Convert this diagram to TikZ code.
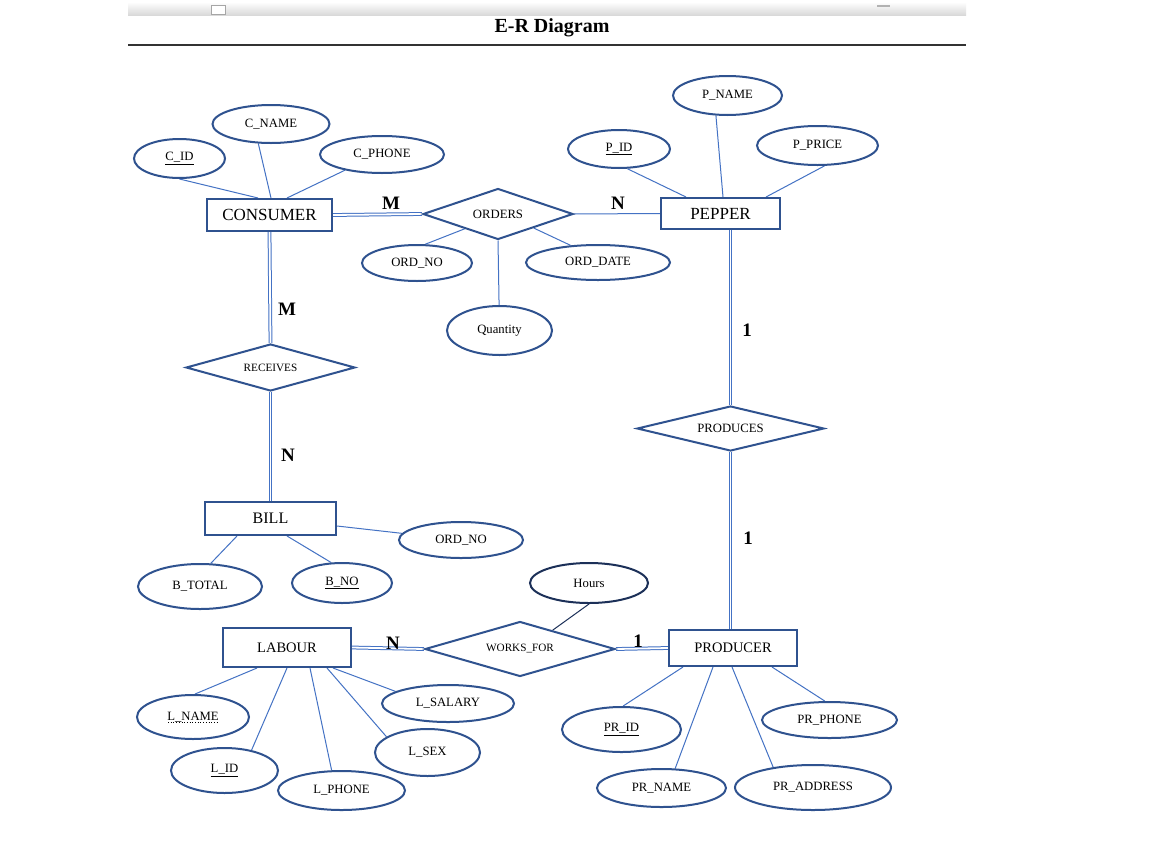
\documentclass[tikz,border=0pt]{standalone}
\usepackage{fontspec}
\setmainfont{Liberation Serif}
\usetikzlibrary{shapes.geometric,calc,backgrounds}
\definecolor{shapecol}{RGB}{47,82,143}
\definecolor{conncol}{RGB}{68,114,196}
\definecolor{darknavy}{RGB}{28,48,88}
\begin{document}
\begin{tikzpicture}[x=1pt,y=-1pt,
 ent/.style={draw=shapecol, line width=2pt, rectangle, inner sep=0pt, fill=white},
 rel/.style={draw=shapecol, line width=2pt, diamond, aspect=4, inner sep=0pt, fill=white},
 attr/.style={draw=shapecol, line width=2pt, ellipse, inner sep=0pt, fill=white, font=\fontsize{12.7}{14}\selectfont},
 conn/.style={draw=conncol, line width=1pt},
 dbl/.style={draw=conncol, line width=1pt, double=white, double distance=1.8pt},
 card/.style={font=\fontsize{19}{21}\selectfont\bfseries, inner sep=0pt},
 bigtxt/.style={font=\fontsize{17}{19}\selectfont},
 billtxt/.style={font=\fontsize{16}{18}\selectfont},
 midtxt/.style={font=\fontsize{14.5}{16}\selectfont},
 reltxt/.style={font=\fontsize{12.7}{14}\selectfont},
 smalltxt/.style={font=\fontsize{11.2}{13}\selectfont},
]
\useasboundingbox (0,0) rectangle (1155,862);

% window bar and title
\shade[top color=white, bottom color=gray!30] (128,2) rectangle (966,15);
\draw[gray!70, fill=white, line width=0.8pt] (211,5) rectangle (225,14);
\draw[gray!60, line width=1.5pt] (877,6) -- (890,6);
\node[font=\fontsize{20}{22}\selectfont\bfseries] (title) at (552,28) {E-R Diagram};
\draw[black!80, line width=1.5pt] (128,45) -- (966,45);

% entities
\node[ent, bigtxt, minimum width=125pt, minimum height=32pt] (consumer) at (269.5,215) {CONSUMER};
\node[ent, bigtxt, minimum width=119pt, minimum height=31pt] (pepper) at (720.5,213.5) {PEPPER};
\node[ent, billtxt, minimum width=131pt, minimum height=33pt] (bill) at (270.5,518.5) {BILL};
\node[ent, midtxt, minimum width=128pt, minimum height=39pt] (labour) at (287,647.5) {LABOUR};
\node[ent, midtxt, minimum width=128pt, minimum height=36pt] (producer) at (733,648) {PRODUCER};

% relationships
\node[rel, reltxt, minimum width=150pt, minimum height=51pt] (orders) at (498,214) {ORDERS};
\node[rel, smalltxt, minimum width=169pt, minimum height=47pt] (receives) at (270.5,367.5) {RECEIVES};
\node[rel, reltxt, minimum width=187pt, minimum height=45pt] (produces) at (730.5,428.5) {PRODUCES};
\node[rel, smalltxt, minimum width=190pt, minimum height=55pt] (wf) at (520,649) {WORKS\_FOR};

% attributes
\node[attr, minimum width=91pt, minimum height=39pt] (cid) at (179.5,158.5) {\underline{C\_ID}};
\node[attr, minimum width=117pt, minimum height=38pt] (cname) at (271,124) {C\_NAME};
\node[attr, minimum width=124pt, minimum height=37pt] (cphone) at (382,154.5) {C\_PHONE};
\node[attr, minimum width=109pt, minimum height=39pt] (pname) at (727.5,95.5) {P\_NAME};
\node[attr, minimum width=102pt, minimum height=38pt] (pid) at (619,149) {\underline{P\_ID}};
\node[attr, minimum width=121pt, minimum height=39pt] (pprice) at (817.5,145.5) {P\_PRICE};
\node[attr, minimum width=110pt, minimum height=36pt] (ordno1) at (417,263) {ORD\_NO};
\node[attr, minimum width=144pt, minimum height=35pt] (orddate) at (598,262.5) {ORD\_DATE};
\node[attr, minimum width=105pt, minimum height=49pt] (qty) at (499.5,330.5) {Quantity};
\node[attr, minimum width=124pt, minimum height=36pt] (ordno2) at (461,540) {ORD\_NO};
\node[attr, minimum width=124pt, minimum height=45pt] (btotal) at (200,586.5) {B\_TOTAL};
\node[attr, minimum width=100pt, minimum height=40pt] (bno) at (342,583) {\underline{B\_NO}};
\node[attr, draw=darknavy, minimum width=118pt, minimum height=40pt] (hours) at (589,583) {Hours};
\node[attr, minimum width=112pt, minimum height=44pt] (lname) at (193,717) {L\_NAME};
\draw[black, dotted, line width=0.7pt] ([xshift=-25pt,yshift=-5.5pt]lname.center) -- ([xshift=25pt,yshift=-5.5pt]lname.center);
\node[attr, minimum width=107pt, minimum height=45pt] (lid) at (224.5,770.5) {\underline{L\_ID}};
\node[attr, minimum width=127pt, minimum height=39pt] (lphone) at (341.5,790.5) {L\_PHONE};
\node[attr, minimum width=132pt, minimum height=37pt] (lsalary) at (448,703.5) {L\_SALARY};
\node[attr, minimum width=105pt, minimum height=47pt] (lsex) at (427.5,752.5) {L\_SEX};
\node[attr, minimum width=119pt, minimum height=45pt] (prid) at (621.5,729.5) {\underline{PR\_ID}};
\node[attr, minimum width=135pt, minimum height=36pt] (prphone) at (829.5,720) {PR\_PHONE};
\node[attr, minimum width=129pt, minimum height=38pt] (prname) at (661.5,788) {PR\_NAME};
\node[attr, minimum width=156pt, minimum height=45pt] (praddr) at (813,787.5) {PR\_ADDRESS};

% cardinalities
\node[card] (m1) at (391,203) {M};
\node[card] (n1) at (618,203) {N};
\node[card] (m2) at (287,309) {M};
\node[card] (n2) at (288,455) {N};
\node[card] (o1) at (747,330) {1};
\node[card] (o2) at (748,538) {1};
\node[card] (n3) at (393,643) {N};
\node[card] (o3) at (638,641) {1};

\begin{pgfonlayer}{background}
\fill[white] (0,0) rectangle (1155,862);
% attribute connectors
\draw[conn] (cid.south) -- ([xshift=-11.5pt]consumer.north);
\draw[conn] (cname.237) -- ([xshift=1.5pt]consumer.north);
\draw[conn] (cphone.203) -- ([xshift=17.5pt]consumer.north);
\draw[conn] (pid.293) -- ([xshift=-34.5pt]pepper.north);
\draw[conn] (pname.240) -- ([xshift=2.5pt]pepper.north);
\draw[conn] (pprice.289) -- ([xshift=45.5pt]pepper.north);
\draw[conn] ($(orders.west)!0.56!(orders.south)$) -- (ordno1.66);
\draw[conn] ($(orders.south)!0.47!(orders.east)$) -- (orddate.148);
\draw[conn] (orders.south) -- (qty);
\draw[conn] (bill) -- (ordno2);
\draw[conn] ([xshift=-33.5pt]bill.south) -- (btotal.65);
\draw[conn] ([xshift=16.5pt]bill.south) -- (bno.118);
\draw[conn, draw=darknavy] (hours.south) -- ($(wf.north)!0.34!(wf.east)$);
\draw[conn] ([xshift=-30pt]labour.south) -- (lname.85);
\draw[conn] (labour.south) -- (lid.37);
\draw[conn] ([xshift=23pt]labour.south) -- (lphone.116);
\draw[conn] ([xshift=40pt]labour.south) -- (lsex.159);
\draw[conn] ([xshift=46pt]labour.south) -- (lsalary.167);
\draw[conn] ([xshift=-50pt]producer.south) -- (prid.86);
\draw[conn] ([xshift=-20pt]producer.south) -- (prname.55);
\draw[conn] ([xshift=-1pt]producer.south) -- (praddr.153);
\draw[conn] ([xshift=39pt]producer.south) -- (prphone.104);
% relationship connectors
\draw[dbl] (consumer.east) -- (orders.west);
\draw[conn] (orders.east) -- (pepper.west);
\draw[dbl] (consumer.south) -- (receives.north);
\draw[dbl] (receives.south) -- (bill.north);
\draw[dbl] (produces.north |- pepper.south) -- (produces.north);
\draw[dbl] (produces.south) -- (produces.south |- producer.north);
\draw[dbl] (labour.east) -- (wf.west);
\draw[dbl] (wf.east) -- (producer.west);
\end{pgfonlayer}
\end{tikzpicture}
\end{document}
